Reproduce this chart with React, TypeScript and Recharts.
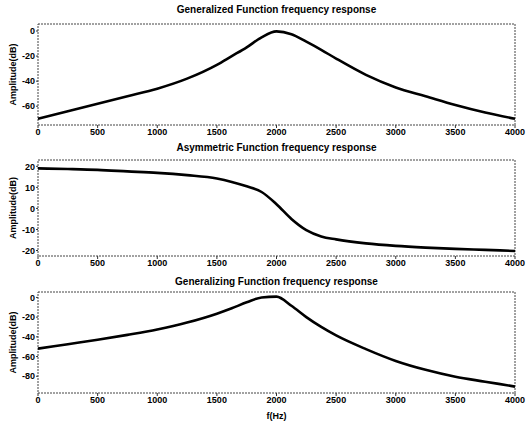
import { Line, LineChart, ReferenceArea, XAxis, YAxis } from "recharts";

// frequency grid (Hz), denser around the 2 kHz resonance
const freq = [0, 250, 500, 750, 1000, 1250, 1500, 1625, 1750, 1875, 2000, 2125, 2250, 2375, 2500, 2750, 3000, 3250, 3500, 3750, 4000];

// amplitude in dB
const generalizedDb = [-70, -64, -58, -52, -46, -38, -27, -20, -13, -5, -0.3, -2.5, -8.5, -15, -22, -35, -45, -52, -59, -65, -70];
const asymmetricDb = [19, 18.7, 18.3, 17.6, 16.9, 15.8, 14.2, 12.6, 10.5, 7.8, 2, -5, -10.3, -13.3, -14.7, -16.6, -17.8, -18.6, -19.2, -19.7, -20.2];
const generalizingDb = [-52, -47.5, -43, -38, -32.5, -25.5, -16.5, -11, -5, 0, 0.8, -8.5, -20, -30, -38.6, -52.5, -64.5, -73.5, -80.5, -85.5, -90.5];

const titles = [
  "Generalized Function frequency response",
  "Asymmetric Function frequency response",
  "Generalizing Function frequency response",
];

const xTicks = [0, 500, 1000, 1500, 2000, 2500, 3000, 3500, 4000];
const topYTicks = [-60, -40, -20, 0];
const midYTicks = [-20, -10, 0, 10, 20];
const botYTicks = [-80, -60, -40, -20, 0];

const FONT = '"Liberation Sans", Arial, sans-serif';
const tickStyle = { fontSize: 9, fontWeight: 700, fill: "#000", fontFamily: FONT };

type PanelProps = {
  values: number[];
  title: string;
  yTicks: number[];
  domain: [number, number];
  top: number;
  height: number;
  marginTop: number;
  xAxisHeight: number;
  titleTop: number;
  xLabel?: string;
};

function Panel({ values, title, yTicks, domain, top, height, marginTop, xAxisHeight, titleTop, xLabel }: PanelProps) {
  const data = freq.map((f, i) => ({ f, db: values[i] }));
  return (
    <>
      <div
        style={{
          position: "absolute",
          top: titleTop,
          left: 38,
          width: 477,
          textAlign: "center",
          fontFamily: FONT,
          fontSize: 10,
          fontWeight: 700,
          lineHeight: "12px",
          color: "#000",
        }}
      >
        {title}
      </div>
      <div style={{ position: "absolute", top, left: 0 }}>
        <LineChart width={529} height={height} data={data} margin={{ top: marginTop, right: 14, bottom: 0, left: 0 }}>
          <XAxis
            dataKey="f"
            type="number"
            domain={[0, 4000]}
            ticks={xTicks}
            interval={0}
            height={xAxisHeight}
            axisLine={false}
            tickLine={{ stroke: "#333" }}
            tickSize={3}
            tickMargin={1}
            tick={tickStyle}
            label={
              xLabel
                ? { value: xLabel, position: "insideBottom", offset: 4, fill: "#000", fontSize: 9, fontWeight: 700, style: { fontFamily: FONT } }
                : undefined
            }
          />
          <YAxis
            type="number"
            domain={domain}
            ticks={yTicks}
            interval={0}
            width={38}
            axisLine={false}
            tickLine={{ stroke: "#333" }}
            tickSize={2}
            tickMargin={1}
            tick={tickStyle}
            allowDataOverflow
            label={{
              value: "Amplitude(dB)",
              angle: -90,
              position: "insideLeft",
              offset: 13,
              fill: "#000",
              fontSize: 9,
              fontWeight: 700,
              style: { textAnchor: "middle", fontFamily: FONT },
            }}
          />
          <ReferenceArea
            x1={0}
            x2={4000}
            y1={domain[0]}
            y2={domain[1]}
            fill="none"
            stroke="#444"
            strokeDasharray="2 1"
          />
          <Line
            type="monotone"
            dataKey="db"
            stroke="#000"
            strokeWidth={2.6}
            dot={false}
            isAnimationActive={false}
          />
        </LineChart>
      </div>
    </>
  );
}

export default function App() {
  return (
    <div style={{ position: "absolute", left: 0, top: 0, width: 529, height: 423, background: "#fff", overflow: "hidden" }}>
      <Panel values={generalizedDb} title={titles[0]} yTicks={topYTicks} domain={[-75, 5.6]} top={0} height={140} marginTop={24} xAxisHeight={15} titleTop={4} />
      <Panel values={asymmetricDb} title={titles[1]} yTicks={midYTicks} domain={[-22.6, 23]} top={140} height={130} marginTop={20} xAxisHeight={14} titleTop={142} />
      <Panel values={generalizingDb} title={titles[2]} yTicks={botYTicks} domain={[-97, 5.5]} top={270} height={153} marginTop={22} xAxisHeight={30} titleTop={276} xLabel="f(Hz)" />
    </div>
  );
}
